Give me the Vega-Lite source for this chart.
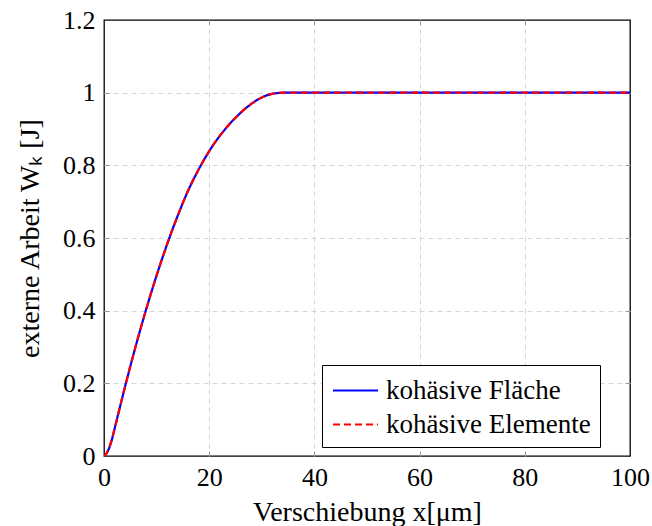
{
  "$schema": "https://vega.github.io/schema/vega-lite/v6.json",
  "width": 526,
  "height": 436,
  "autosize": {"type": "none"},
  "padding": {"left": 104, "top": 20, "right": 22, "bottom": 70},
  "background": "white",
  "config": {
    "view": {"stroke": "black", "strokeWidth": 1.3},
    "font": "Liberation Serif",
    "axis": {
      "domain": false,
      "grid": true,
      "gridColor": {"condition": {"test": "datum.value == 0 || datum.value == 100 || datum.value == 1.2", "value": "transparent"}, "value": "#d6d6d6"},
      "gridDash": [5, 4],
      "gridWidth": 1,
      "tickColor": {"condition": {"test": "datum.value == 0 || datum.value == 100 || datum.value == 1.2", "value": "transparent"}, "value": "#9a9a9a"},
      "tickSize": -5,
      "tickWidth": 1,
      "labelFlush": false,
      "labelOverlap": false,
      "labelFont": "Liberation Serif",
      "labelFontSize": 26,
      "labelColor": "black",
      "titleFont": "Liberation Serif",
      "titleFontSize": 28,
      "titleFontWeight": "normal",
      "titleColor": "black"
    },
    "legend": {
      "labelFont": "Liberation Serif",
      "labelFontSize": 27,
      "labelColor": "black",
      "labelLimit": 0
    }
  },
  "data": {
    "values": [
      {"x": 0, "flaeche": 0, "elemente": 0},
      {"x": 0.5, "flaeche": 0.007, "elemente": 0.007},
      {"x": 1, "flaeche": 0.022, "elemente": 0.022},
      {"x": 1.5, "flaeche": 0.045, "elemente": 0.045},
      {"x": 2, "flaeche": 0.074, "elemente": 0.074},
      {"x": 3, "flaeche": 0.133, "elemente": 0.133},
      {"x": 4, "flaeche": 0.191, "elemente": 0.191},
      {"x": 5, "flaeche": 0.247, "elemente": 0.247},
      {"x": 6, "flaeche": 0.301, "elemente": 0.301},
      {"x": 7, "flaeche": 0.353, "elemente": 0.353},
      {"x": 8, "flaeche": 0.403, "elemente": 0.403},
      {"x": 9, "flaeche": 0.451, "elemente": 0.451},
      {"x": 10, "flaeche": 0.497, "elemente": 0.497},
      {"x": 11, "flaeche": 0.541, "elemente": 0.541},
      {"x": 12, "flaeche": 0.583, "elemente": 0.583},
      {"x": 13, "flaeche": 0.623, "elemente": 0.623},
      {"x": 14, "flaeche": 0.661, "elemente": 0.661},
      {"x": 15, "flaeche": 0.697, "elemente": 0.697},
      {"x": 16, "flaeche": 0.731, "elemente": 0.731},
      {"x": 17, "flaeche": 0.761, "elemente": 0.761},
      {"x": 18, "flaeche": 0.789, "elemente": 0.789},
      {"x": 19, "flaeche": 0.815, "elemente": 0.815},
      {"x": 20, "flaeche": 0.839, "elemente": 0.839},
      {"x": 21, "flaeche": 0.861, "elemente": 0.861},
      {"x": 22, "flaeche": 0.881, "elemente": 0.881},
      {"x": 23, "flaeche": 0.899, "elemente": 0.899},
      {"x": 24, "flaeche": 0.916, "elemente": 0.916},
      {"x": 25, "flaeche": 0.931, "elemente": 0.931},
      {"x": 26, "flaeche": 0.945, "elemente": 0.945},
      {"x": 27, "flaeche": 0.958, "elemente": 0.958},
      {"x": 28, "flaeche": 0.969, "elemente": 0.969},
      {"x": 29, "flaeche": 0.979, "elemente": 0.979},
      {"x": 30, "flaeche": 0.987, "elemente": 0.987},
      {"x": 31, "flaeche": 0.993, "elemente": 0.993},
      {"x": 32, "flaeche": 0.997, "elemente": 0.997},
      {"x": 33, "flaeche": 0.999, "elemente": 0.999},
      {"x": 34, "flaeche": 1.0, "elemente": 1.0},
      {"x": 50, "flaeche": 1.0, "elemente": 1.0},
      {"x": 75, "flaeche": 1.0, "elemente": 1.0},
      {"x": 100, "flaeche": 1.0, "elemente": 1.0}
    ]
  },
  "resolve": {"axis": {"x": "independent", "y": "independent"}},
  "layer": [
    {
      "mark": {"type": "line", "strokeWidth": 2.2, "clip": true},
      "encoding": {
        "x": {
          "field": "x",
          "type": "quantitative",
          "scale": {"domain": [0, 100], "nice": false},
          "axis": {"title": "Verschiebung x[μm]", "values": [0, 20, 40, 60, 80, 100], "format": "d", "labelPadding": 13, "titlePadding": 8}
        },
        "y": {
          "field": "flaeche",
          "type": "quantitative",
          "scale": {"domain": [0, 1.2], "nice": false},
          "axis": {"title": "externe Arbeit Wₖ [J]", "values": [0, 0.2, 0.4, 0.6, 0.8, 1, 1.2], "format": "~g", "labelPadding": 14, "titlePadding": 18}
        },
        "color": {
          "datum": "kohäsive Fläche",
          "scale": {"domain": ["kohäsive Fläche", "kohäsive Elemente"], "range": ["#0000ff", "#ff0000"]},
          "legend": {
            "orient": "none",
            "legendX": 218,
            "legendY": 345,
            "title": null,
            "symbolType": "M-1.5,0H1.5",
            "symbolSize": 900,
            "symbolOffset": 8,
            "symbolStrokeWidth": 2.2,
            "labelOffset": 14,
            "padding": 9,
            "rowPadding": 4,
            "strokeColor": "black",
            "fillColor": "white"
          }
        },
        "strokeDash": {
          "datum": "kohäsive Fläche",
          "scale": {"domain": ["kohäsive Fläche", "kohäsive Elemente"], "range": [[1, 0], [7, 4]]}
        }
      }
    },
    {
      "mark": {"type": "line", "strokeWidth": 2.2, "clip": true},
      "encoding": {
        "x": {"field": "x", "type": "quantitative", "axis": null},
        "y": {"field": "elemente", "type": "quantitative", "axis": null},
        "color": {"datum": "kohäsive Elemente"},
        "strokeDash": {"datum": "kohäsive Elemente"}
      }
    },
    {
      "mark": {"type": "line", "opacity": 0},
      "encoding": {
        "x": {"field": "x", "type": "quantitative", "axis": {"orient": "top", "labels": false, "title": null, "grid": false, "values": [0, 20, 40, 60, 80, 100]}},
        "y": {"field": "flaeche", "type": "quantitative", "axis": {"orient": "right", "labels": false, "title": null, "grid": false, "values": [0, 0.2, 0.4, 0.6, 0.8, 1, 1.2]}}
      }
    }
  ]
}
